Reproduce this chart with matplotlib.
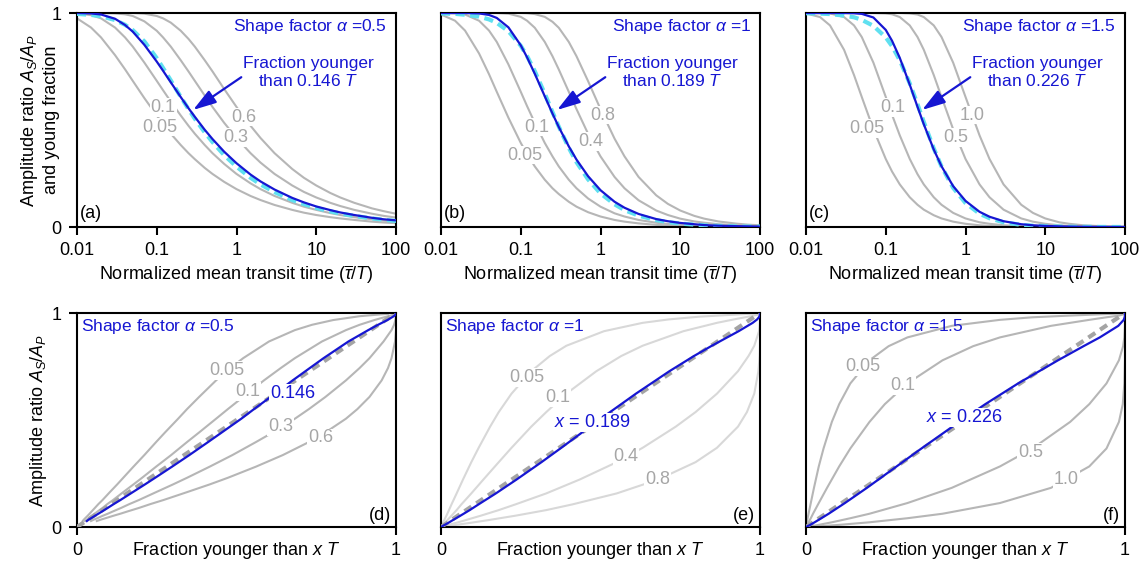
import matplotlib.pyplot as plt
from matplotlib.ticker import NullLocator

plt.rcParams['font.family'] = ['Liberation Sans', 'DejaVu Sans']
plt.rcParams['mathtext.fontset'] = 'custom'
plt.rcParams['mathtext.rm'] = 'Liberation Sans'
plt.rcParams['mathtext.it'] = 'Liberation Sans:italic'
plt.rcParams['mathtext.bf'] = 'Liberation Sans:bold'
plt.rcParams['font.size'] = 13

# normalized mean transit time (tau / T), shared by all panels
tau = [0.01, 0.015, 0.02, 0.03, 0.04, 0.05, 0.07, 0.1, 0.12, 0.15, 0.2, 0.25, 0.3, 0.4, 0.5, 0.7,
       1, 1.5, 2, 3, 5, 7, 10, 15, 20, 30, 50, 70, 100]

# shape factor 0.5
amp_05 = [0.996, 0.991, 0.985, 0.967, 0.945, 0.920, 0.867, 0.789, 0.743, 0.685, 0.608, 0.551, 0.506,
          0.442, 0.397, 0.336, 0.282, 0.230, 0.199, 0.163, 0.126, 0.107, 0.089, 0.073, 0.063, 0.052,
          0.040, 0.034, 0.028]
thr_05 = ['0.05', '0.1', '0.3', '0.6']
young_05 = [
    [0.975, 0.932, 0.886, 0.803, 0.737, 0.683, 0.602, 0.521, 0.481, 0.436, 0.383, 0.345, 0.317,
     0.276, 0.248, 0.211, 0.177, 0.145, 0.126, 0.103, 0.080, 0.067, 0.056, 0.046, 0.040, 0.033,
     0.025, 0.021, 0.018],
    [0.998, 0.990, 0.975, 0.932, 0.886, 0.843, 0.768, 0.683, 0.639, 0.586, 0.521, 0.473, 0.436,
     0.383, 0.345, 0.295, 0.248, 0.204, 0.177, 0.145, 0.113, 0.095, 0.080, 0.065, 0.056, 0.046,
     0.036, 0.030, 0.025],
    [1.0, 1.0, 1.0, 0.998, 0.994, 0.986, 0.961, 0.917, 0.886, 0.843, 0.779, 0.727, 0.683,
     0.614, 0.561, 0.487, 0.416, 0.345, 0.301, 0.248, 0.194, 0.164, 0.138, 0.113, 0.098, 0.080,
     0.062, 0.052, 0.044],
    [1.0, 1.0, 1.0, 1.0, 1.0, 1.0, 0.997, 0.986, 0.975, 0.955, 0.917, 0.879, 0.843,
     0.779, 0.727, 0.645, 0.561, 0.473, 0.416, 0.345, 0.271, 0.230, 0.194, 0.159, 0.138, 0.113,
     0.087, 0.074, 0.062],
]
blue_05 = [1.0, 0.998, 0.993, 0.973, 0.944, 0.913, 0.851, 0.773, 0.730, 0.676, 0.607, 0.555, 0.515,
           0.454, 0.411, 0.352, 0.298, 0.245, 0.213, 0.175, 0.136, 0.115, 0.096, 0.079, 0.068, 0.056,
           0.043, 0.036, 0.031]

# shape factor 1
amp_1 = [0.998, 0.996, 0.992, 0.983, 0.970, 0.954, 0.915, 0.847, 0.799, 0.728, 0.623, 0.537, 0.469,
         0.370, 0.303, 0.222, 0.157, 0.106, 0.079, 0.053, 0.032, 0.023, 0.016, 0.011, 0.008, 0.005,
         0.003, 0.002, 0.002]
thr_1 = ['0.05', '0.1', '0.4', '0.8']
young_1 = [
    [0.993, 0.964, 0.918, 0.811, 0.714, 0.632, 0.511, 0.393, 0.341, 0.283, 0.221, 0.181, 0.154,
     0.118, 0.095, 0.069, 0.049, 0.033, 0.025, 0.017, 0.010, 0.007, 0.005, 0.003, 0.002, 0.002,
     0.001, 0.001, 0.0005],
    [1.0, 0.999, 0.993, 0.964, 0.918, 0.865, 0.760, 0.632, 0.565, 0.487, 0.393, 0.330, 0.283,
     0.221, 0.181, 0.133, 0.095, 0.064, 0.049, 0.033, 0.020, 0.014, 0.010, 0.007, 0.005, 0.003,
     0.002, 0.001, 0.001],
    [1.0, 1.0, 1.0, 1.0, 1.0, 1.0, 0.997, 0.982, 0.964, 0.931, 0.865, 0.798, 0.736,
     0.632, 0.551, 0.435, 0.330, 0.234, 0.181, 0.125, 0.077, 0.056, 0.039, 0.026, 0.020, 0.013,
     0.008, 0.006, 0.004],
    [1.0, 1.0, 1.0, 1.0, 1.0, 1.0, 1.0, 1.0, 0.999, 0.995, 0.982, 0.959, 0.931,
     0.865, 0.798, 0.681, 0.551, 0.413, 0.330, 0.234, 0.148, 0.108, 0.077, 0.052, 0.039, 0.026,
     0.016, 0.011, 0.008],
]
blue_1 = [1.0, 1.0, 1.0, 0.998, 0.991, 0.977, 0.933, 0.849, 0.793, 0.716, 0.611, 0.530, 0.467,
          0.377, 0.315, 0.237, 0.172, 0.118, 0.090, 0.061, 0.037, 0.027, 0.019, 0.013, 0.009, 0.006,
          0.004, 0.003, 0.002]

# shape factor 1.5
amp_15 = [0.999, 0.997, 0.995, 0.988, 0.980, 0.968, 0.940, 0.886, 0.845, 0.779, 0.671, 0.574, 0.491,
          0.367, 0.283, 0.183, 0.112, 0.062, 0.041, 0.022, 0.010, 0.006, 0.004, 0.002, 0.001, 0.0007,
          0.0003, 0.0002, 0.0001]
thr_15 = ['0.05', '0.1', '0.5', '1.0']
young_15 = [
    [0.998, 0.981, 0.942, 0.828, 0.710, 0.608, 0.457, 0.318, 0.259, 0.199, 0.139, 0.104, 0.081,
     0.055, 0.040, 0.025, 0.015, 0.008, 0.005, 0.003, 0.001, 0.001, 0.0005, 0.0003, 0.0002, 0.0001,
     0.0, 0.0, 0.0],
    [1.0, 1.0, 0.998, 0.981, 0.942, 0.888, 0.768, 0.608, 0.524, 0.428, 0.318, 0.247, 0.199,
     0.139, 0.104, 0.066, 0.040, 0.022, 0.015, 0.008, 0.004, 0.002, 0.001, 0.001, 0.0005, 0.0003,
     0.0001, 0.0001, 0.0],
    [1.0, 1.0, 1.0, 1.0, 1.0, 1.0, 1.0, 0.998, 0.994, 0.981, 0.942, 0.888, 0.828,
     0.710, 0.608, 0.457, 0.318, 0.199, 0.139, 0.081, 0.040, 0.025, 0.015, 0.008, 0.005, 0.003,
     0.001, 0.001, 0.0005],
    [1.0, 1.0, 1.0, 1.0, 1.0, 1.0, 1.0, 1.0, 1.0, 1.0, 0.998, 0.993, 0.981,
     0.942, 0.888, 0.768, 0.608, 0.428, 0.318, 0.199, 0.104, 0.066, 0.040, 0.022, 0.015, 0.008,
     0.004, 0.002, 0.001],
]
blue_15 = [1.0, 1.0, 1.0, 1.0, 0.999, 0.996, 0.979, 0.921, 0.870, 0.790, 0.665, 0.562, 0.480,
           0.362, 0.284, 0.191, 0.122, 0.071, 0.048, 0.027, 0.013, 0.008, 0.005, 0.003, 0.002, 0.001,
           0.0004, 0.0003, 0.0002]

alphas = ['0.5', '1', '1.5']
x_star = ['0.146', '0.189', '0.226']

GRAY = '#b6b6b6'
GRAY_LIGHT = '#d8d8d8'
LBL = '#a6a6a6'
BLUE = '#1616d2'
CYAN = '#5fe0f0'
WHITE_BOX = dict(boxstyle='square,pad=0.05', fc='white', ec='none')

fig = plt.figure(figsize=(11.45, 5.70), dpi=100)
lefts = [77 / 1145, 441 / 1145, 806 / 1145]
w = 319 / 1145
h = 214 / 570

# label spots, axes fraction
top_lbl = [
    [(0.261, 0.467), (0.27, 0.56), (0.497, 0.42), (0.522, 0.514)],
    [(0.2625, 0.336), (0.30, 0.467), (0.47, 0.40), (0.506, 0.523)],
    [(0.19, 0.462), (0.272, 0.56), (0.47, 0.42), (0.522, 0.523)],
]
bot_lbl = [
    [(0.47, 0.733), (0.535, 0.632), (0.638, 0.469), (0.764, 0.416)],
    [(0.269, 0.70), (0.366, 0.603), (0.58, 0.33), (0.678, 0.22)],
    [(0.178, 0.748), (0.303, 0.66), (0.703, 0.35), (0.816, 0.224)],
]
blue_lbl = [(0.675, 0.626), (0.475, 0.49), (0.497, 0.51)]

amps = [amp_05, amp_1, amp_15]
youngs = [young_05, young_1, young_15]
blues = [blue_05, blue_1, blue_15]
thrs = [thr_05, thr_1, thr_15]


def frame(ax):
    for s in ax.spines.values():
        s.set_linewidth(1.5)
    ax.tick_params(direction='out', length=6, width=1.5, labelsize=13, pad=5)


for i in range(3):
    # ---- top row ----
    ax = fig.add_axes([lefts[i], 1 - 227 / 570, w, h])
    for yv in youngs[i]:
        ax.plot(tau, yv, color=GRAY, lw=1.5, zorder=2)
    ax.plot(tau, amps[i], color=CYAN, lw=3, dashes=(2.2, 1.3), zorder=3)
    ax.plot(tau, blues[i], color=BLUE, lw=1.6, zorder=4)
    for k, t in enumerate(thrs[i]):
        ax.text(top_lbl[i][k][0], top_lbl[i][k][1], t, transform=ax.transAxes,
                color=LBL, ha='center', va='center', fontsize=13, bbox=WHITE_BOX, zorder=5)
    ax.set_xscale('log')
    ax.set_xlim(0.01, 100)
    ax.set_ylim(0, 1)
    ax.set_xticks([0.01, 0.1, 1, 10, 100])
    ax.set_xticklabels(['0.01', '0.1', '1', '10', '100'])
    ax.xaxis.set_minor_locator(NullLocator())
    if i == 0:
        ax.set_yticks([0, 1])
        ax.set_yticklabels(['0', '1'])
        ax.set_ylabel('Amplitude ratio $A_S/A_P$\nand young fraction', labelpad=-6)
    else:
        ax.set_yticks([])
    ax.set_xlabel(r'Normalized mean transit time ($\overline{\tau}/T$)', labelpad=3)
    frame(ax)
    ax.text(0.972, 0.935, r'Shape factor $\alpha$ =' + alphas[i], transform=ax.transAxes,
            color=BLUE, ha='right', va='center', fontsize=12.5)
    ax.text(0.725, 0.724, 'Fraction younger\nthan ' + x_star[i] + ' $T$', transform=ax.transAxes,
            color=BLUE, ha='center', va='center', linespacing=1.15, fontsize=12.5)
    ax.annotate('', xy=(0.364, 0.547), xytext=(0.515, 0.70), xycoords='axes fraction',
                arrowprops=dict(arrowstyle='-|>,head_length=0.7,head_width=0.22', color=BLUE,
                                lw=1.6, shrinkA=0, shrinkB=0, mutation_scale=20))
    ax.text(0.01, 0.065, '(' + 'abc'[i] + ')', transform=ax.transAxes, ha='left', va='center')

    # ---- bottom row ----
    ax = fig.add_axes([lefts[i], 1 - 527 / 570, w, h])
    gc = GRAY_LIGHT if i == 1 else GRAY
    for yv in youngs[i]:
        ax.plot(yv, amps[i], color=gc, lw=1.5, zorder=2)
    ax.plot([0, 1], [0, 1], color='#a4a4a4', lw=3, dashes=(2, 1.4), zorder=3)
    ax.plot(blues[i], amps[i], color=BLUE, lw=1.6, zorder=4)
    for k, t in enumerate(thrs[i]):
        ax.text(bot_lbl[i][k][0], bot_lbl[i][k][1], t, transform=ax.transAxes,
                color=LBL, ha='center', va='center', fontsize=13, bbox=WHITE_BOX, zorder=5)
    if i == 0:
        blab = x_star[i]
    else:
        blab = '$x$ = ' + x_star[i]
    ax.text(blue_lbl[i][0], blue_lbl[i][1], blab, transform=ax.transAxes, color=BLUE,
            ha='center', va='center', fontsize=13, bbox=WHITE_BOX, zorder=5)
    ax.set_xlim(0, 1)
    ax.set_ylim(0, 1)
    ax.set_xticks([0, 1])
    ax.set_xticklabels(['0', '1'])
    if i == 0:
        ax.set_yticks([0, 1])
        ax.set_yticklabels(['0', '1'])
        ax.set_ylabel('Amplitude ratio $A_S/A_P$', labelpad=2)
    else:
        ax.set_yticks([])
    ax.set_xlabel('Fraction younger than $x$ $T$', labelpad=-14)
    frame(ax)
    ax.text(0.012, 0.935, r'Shape factor $\alpha$ =' + alphas[i], transform=ax.transAxes,
            color=BLUE, ha='left', va='center', fontsize=12.5)
    ax.text(0.985, 0.055, '(' + 'def'[i] + ')', transform=ax.transAxes, ha='right', va='center')

fig.savefig('out.png', dpi=100)
